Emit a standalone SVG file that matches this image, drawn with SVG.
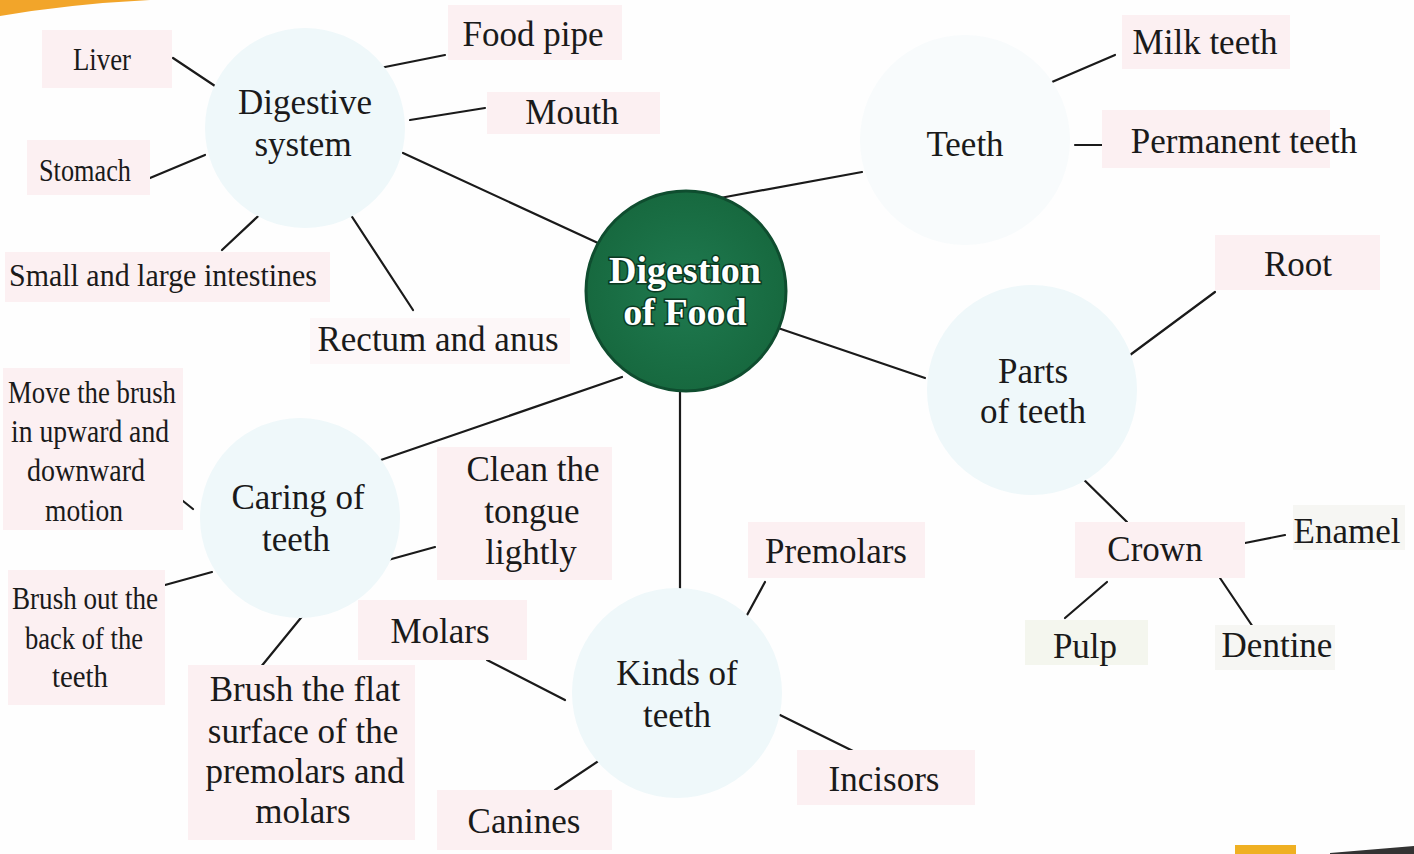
<svg xmlns="http://www.w3.org/2000/svg" width="1414" height="854" viewBox="0 0 1414 854">
<defs>
<style>
.t{font-family:"Liberation Serif","Times New Roman",serif;font-size:35px;fill:#1a1a1a;text-anchor:middle}
.c{font-family:"Liberation Serif","Times New Roman",serif;font-size:32px;fill:#1a1a1a;text-anchor:middle}
.pk{fill:#fcf0f2}
.gy{fill:#f6f6f3}
.bl{fill:#eff8fa}
.ln{stroke:#1a1a1a;stroke-width:2.2;fill:none;stroke-linecap:round}
.ct{font-family:"Liberation Serif","Times New Roman",serif;font-size:38px;font-weight:bold;fill:#ffffff;text-anchor:middle;stroke:#0b3a22;stroke-width:3;paint-order:stroke}
</style>
<radialGradient id="gr" cx="50%" cy="50%" r="50%">
<stop offset="0" stop-color="#1f7a50"/>
<stop offset="1" stop-color="#17693f"/>
</radialGradient>
</defs>
<rect width="1414" height="854" fill="#fefefe"/>
<path d="M0,0 L150,0 Q70,4 0,16 Z" fill="#f2a52a"/>
<rect x="1235" y="845" width="61" height="9" fill="#efb022"/>
<path d="M1330,853 L1414,846 L1414,854 L1330,854 Z" fill="#333"/>

<g id="connectors">
<line class="ln" x1="173" y1="58" x2="218" y2="88"/>
<line class="ln" x1="380" y1="68" x2="445" y2="55"/>
<line class="ln" x1="410" y1="120" x2="485" y2="108"/>
<line class="ln" x1="150" y1="178" x2="205" y2="155"/>
<line class="ln" x1="222" y1="250" x2="270" y2="205"/>
<line class="ln" x1="343" y1="203" x2="413" y2="310"/>
<line class="ln" x1="403" y1="153" x2="598" y2="243"/>
<line class="ln" x1="720" y1="198" x2="862" y2="172"/>
<line class="ln" x1="1045" y1="85" x2="1115" y2="55"/>
<line class="ln" x1="1075" y1="145" x2="1122" y2="145"/>
<line class="ln" x1="778" y1="328" x2="925" y2="378"/>
<line class="ln" x1="1130" y1="355" x2="1215" y2="292"/>
<line class="ln" x1="1072" y1="468" x2="1127" y2="522"/>
<line class="ln" x1="1245" y1="543" x2="1285" y2="535"/>
<line class="ln" x1="1107" y1="582" x2="1065" y2="618"/>
<line class="ln" x1="1220" y1="578" x2="1253" y2="627"/>
<line class="ln" x1="375" y1="462" x2="622" y2="377"/>
<line class="ln" x1="183" y1="501" x2="193" y2="509"/>
<line class="ln" x1="165" y1="585" x2="212" y2="572"/>
<line class="ln" x1="260" y1="668" x2="313" y2="603"/>
<line class="ln" x1="388" y1="560" x2="435" y2="547"/>
<line class="ln" x1="680" y1="392" x2="680" y2="608"/>
<line class="ln" x1="740" y1="628" x2="765" y2="582"/>
<line class="ln" x1="487" y1="660" x2="565" y2="700"/>
<line class="ln" x1="780" y1="715" x2="855" y2="752"/>
<line class="ln" x1="555" y1="790" x2="603" y2="758"/>
</g>

<g id="center">
<circle cx="686" cy="291" r="100" fill="url(#gr)" stroke="#0f4d2f" stroke-width="3"/>
<text class="ct" x="685" y="283">Digestion</text>
<text class="ct" x="685" y="325">of Food</text>
</g>

<g id="digestive-system">
<circle class="bl" cx="305" cy="128" r="100"/>
<text class="t" x="305" y="114">Digestive</text>
<text class="t" x="303" y="156">system</text>
</g>
<g id="liver"><rect class="pk" x="42" y="30" width="130" height="58"/><text class="c" x="102" y="70" textLength="58" lengthAdjust="spacingAndGlyphs">Liver</text></g>
<g id="food-pipe"><rect class="pk" x="448" y="5" width="174" height="55"/><text class="t" x="533" y="46">Food pipe</text></g>
<g id="mouth"><rect class="pk" x="487" y="92" width="173" height="42"/><text class="t" x="572" y="124">Mouth</text></g>
<g id="stomach"><rect class="pk" x="27" y="140" width="123" height="55"/><text class="c" x="85" y="181" textLength="92" lengthAdjust="spacingAndGlyphs">Stomach</text></g>
<g id="intestines"><rect class="pk" x="5" y="252" width="325" height="50"/><text class="c" x="163" y="286" textLength="308" lengthAdjust="spacingAndGlyphs">Small and large intestines</text></g>
<g id="rectum"><rect class="pk" x="310" y="318" width="260" height="46" opacity="0.5"/><text class="t" x="438" y="351">Rectum and anus</text></g>

<g id="teeth">
<circle cx="965" cy="140" r="105" fill="#f8fbfc"/>
<text class="t" x="965" y="156">Teeth</text>
</g>
<g id="milk-teeth"><rect class="pk" x="1122" y="15" width="168" height="54"/><text class="t" x="1205" y="54">Milk teeth</text></g>
<g id="permanent-teeth"><rect class="pk" x="1102" y="110" width="228" height="58"/><text class="t" x="1244" y="153">Permanent teeth</text></g>

<g id="parts-of-teeth">
<circle class="bl" cx="1032" cy="390" r="105"/>
<text class="t" x="1033" y="383">Parts</text>
<text class="t" x="1033" y="423">of teeth</text>
</g>
<g id="root"><rect class="pk" x="1215" y="235" width="165" height="55"/><text class="t" x="1298" y="276">Root</text></g>
<g id="crown"><rect class="pk" x="1075" y="522" width="170" height="56"/><text class="t" x="1155" y="561">Crown</text></g>
<g id="enamel"><rect class="gy" x="1293" y="505" width="112" height="45"/><text class="t" x="1347" y="543">Enamel</text></g>
<g id="pulp"><rect x="1025" y="620" width="123" height="45" fill="#f4f6ee"/><text class="t" x="1085" y="658">Pulp</text></g>
<g id="dentine"><rect class="gy" x="1215" y="625" width="120" height="45"/><text class="t" x="1277" y="657">Dentine</text></g>

<g id="caring-of-teeth">
<circle class="bl" cx="300" cy="518" r="100"/>
<text class="t" x="298" y="509">Caring of</text>
<text class="t" x="296" y="551">teeth</text>
</g>
<g id="move-brush"><rect class="pk" x="3" y="368" width="180" height="162"/>
<text class="c" x="92" y="403" textLength="168" lengthAdjust="spacingAndGlyphs">Move the brush</text>
<text class="c" x="90" y="442" textLength="158" lengthAdjust="spacingAndGlyphs">in upward and</text>
<text class="c" x="86" y="481" textLength="118" lengthAdjust="spacingAndGlyphs">downward</text>
<text class="c" x="84" y="521" textLength="78" lengthAdjust="spacingAndGlyphs">motion</text>
</g>
<g id="brush-out"><rect class="pk" x="8" y="570" width="157" height="135"/>
<text class="c" x="85" y="609" textLength="146" lengthAdjust="spacingAndGlyphs">Brush out the</text>
<text class="c" x="84" y="649" textLength="118" lengthAdjust="spacingAndGlyphs">back of the</text>
<text class="c" x="80" y="687" textLength="56" lengthAdjust="spacingAndGlyphs">teeth</text>
</g>
<g id="brush-flat"><rect class="pk" x="188" y="665" width="227" height="175"/>
<text class="t" x="305" y="701">Brush the flat</text>
<text class="t" x="303" y="743">surface of the</text>
<text class="t" x="305" y="783">premolars and</text>
<text class="t" x="303" y="823">molars</text>
</g>
<g id="clean-tongue"><rect class="pk" x="437" y="447" width="175" height="133"/>
<text class="t" x="533" y="481">Clean the</text>
<text class="t" x="532" y="523">tongue</text>
<text class="t" x="531" y="564">lightly</text>
</g>

<g id="kinds-of-teeth">
<circle class="bl" cx="677" cy="693" r="105"/>
<text class="t" x="677" y="685">Kinds of</text>
<text class="t" x="677" y="727">teeth</text>
</g>
<g id="premolars"><rect class="pk" x="748" y="522" width="177" height="56"/><text class="t" x="836" y="563">Premolars</text></g>
<g id="molars"><rect class="pk" x="358" y="600" width="169" height="60"/><text class="t" x="440" y="643">Molars</text></g>
<g id="incisors"><rect class="pk" x="797" y="750" width="178" height="55"/><text class="t" x="884" y="791">Incisors</text></g>
<g id="canines"><rect class="pk" x="437" y="790" width="175" height="60"/><text class="t" x="524" y="833">Canines</text></g>
</svg>
